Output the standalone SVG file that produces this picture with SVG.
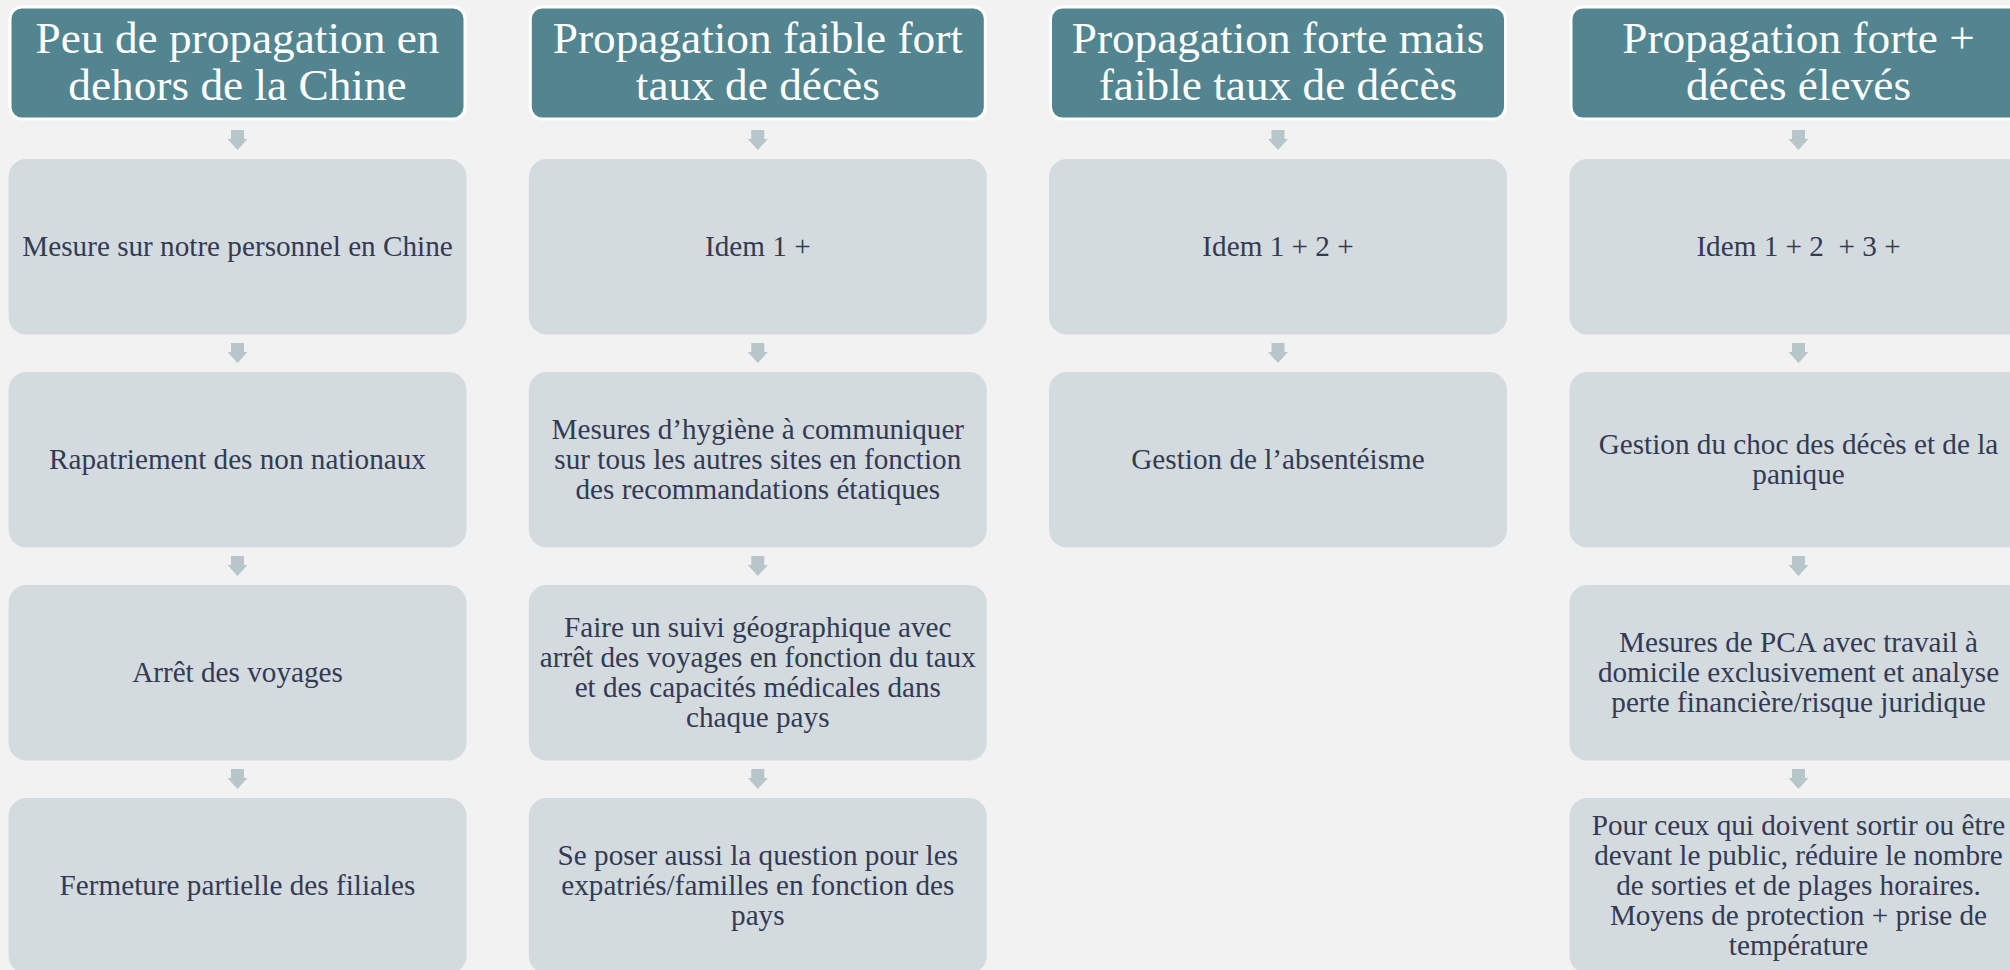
<svg xmlns="http://www.w3.org/2000/svg" width="2010" height="970" viewBox="0 0 2010 970">
<defs>
<style>
.bg{fill:#F2F2F2}
.hdr{fill:#52858F;stroke:#FFFFFF;stroke-width:3}
.box{fill:#D3DBDF}
.arr{fill:#B7C6CB}
.ht{font-family:"Liberation Serif","Times New Roman",serif;font-size:45.3px;fill:#FFFFFF;text-anchor:middle}
.bt{font-family:"Liberation Serif","Times New Roman",serif;font-size:29.2px;fill:#343A54;text-anchor:middle}
</style>
<path id="ar" d="M-6.5,0 H6.5 V9 H10 L0,20 L-10,9 H-6.5 Z"/>
</defs>
<rect class="bg" x="0" y="0" width="2010" height="970"/>

<g id="connectors">
<use href="#ar" class="arr" x="237.5" y="130"/>
<use href="#ar" class="arr" x="237.5" y="343"/>
<use href="#ar" class="arr" x="237.5" y="556"/>
<use href="#ar" class="arr" x="237.5" y="769"/>
<use href="#ar" class="arr" x="757.8" y="130"/>
<use href="#ar" class="arr" x="757.8" y="343"/>
<use href="#ar" class="arr" x="757.8" y="556"/>
<use href="#ar" class="arr" x="757.8" y="769"/>
<use href="#ar" class="arr" x="1278" y="130"/>
<use href="#ar" class="arr" x="1278" y="343"/>
<use href="#ar" class="arr" x="1798.5" y="130"/>
<use href="#ar" class="arr" x="1798.5" y="343"/>
<use href="#ar" class="arr" x="1798.5" y="556"/>
<use href="#ar" class="arr" x="1798.5" y="769"/>
</g>

<!-- Column 1 -->
<g id="h1">
<rect class="hdr" x="10" y="7" width="455" height="112" rx="12"/>
<text class="ht" x="237.5" y="53">Peu de propagation en</text>
<text class="ht" x="237.5" y="100">dehors de la Chine</text>
</g>
<g id="c1r1"><rect class="box" x="8.5" y="159" width="458" height="175.5" rx="18"/>
<text class="bt" x="237.5" y="256">Mesure sur notre personnel en Chine</text></g>
<g id="c1r2"><rect class="box" x="8.5" y="372" width="458" height="175.5" rx="18"/>
<text class="bt" x="237.5" y="469">Rapatriement des non nationaux</text></g>
<g id="c1r3"><rect class="box" x="8.5" y="585" width="458" height="175.5" rx="18"/>
<text class="bt" x="237.5" y="682">Arrêt des voyages</text></g>
<g id="c1r4"><rect class="box" x="8.5" y="798" width="458" height="175.5" rx="18"/>
<text class="bt" x="237.5" y="895">Fermeture partielle des filiales</text></g>

<!-- Column 2 -->
<g id="h2">
<rect class="hdr" x="530.3" y="7" width="455" height="112" rx="12"/>
<text class="ht" x="757.8" y="53">Propagation faible fort</text>
<text class="ht" x="757.8" y="100">taux de décès</text>
</g>
<g id="c2r1"><rect class="box" x="528.8" y="159" width="458" height="175.5" rx="18"/>
<text class="bt" x="757.8" y="256">Idem 1 +</text></g>
<g id="c2r2"><rect class="box" x="528.8" y="372" width="458" height="175.5" rx="18"/>
<text class="bt" x="757.8" y="439">Mesures d’hygiène à communiquer</text>
<text class="bt" x="757.8" y="469">sur tous les autres sites en fonction</text>
<text class="bt" x="757.8" y="499">des recommandations étatiques</text></g>
<g id="c2r3"><rect class="box" x="528.8" y="585" width="458" height="175.5" rx="18"/>
<text class="bt" x="757.8" y="637">Faire un suivi géographique avec</text>
<text class="bt" x="757.8" y="667">arrêt des voyages en fonction du taux</text>
<text class="bt" x="757.8" y="697">et des capacités médicales dans</text>
<text class="bt" x="757.8" y="727">chaque pays</text></g>
<g id="c2r4"><rect class="box" x="528.8" y="798" width="458" height="175.5" rx="18"/>
<text class="bt" x="757.8" y="865">Se poser aussi la question pour les</text>
<text class="bt" x="757.8" y="895">expatriés/familles en fonction des</text>
<text class="bt" x="757.8" y="925">pays</text></g>

<!-- Column 3 -->
<g id="h3">
<rect class="hdr" x="1050.5" y="7" width="455" height="112" rx="12"/>
<text class="ht" x="1278" y="53">Propagation forte mais</text>
<text class="ht" x="1278" y="100">faible taux de décès</text>
</g>
<g id="c3r1"><rect class="box" x="1049" y="159" width="458" height="175.5" rx="18"/>
<text class="bt" x="1278" y="256">Idem 1 + 2 +</text></g>
<g id="c3r2"><rect class="box" x="1049" y="372" width="458" height="175.5" rx="18"/>
<text class="bt" x="1278" y="469">Gestion de l’absentéisme</text></g>

<!-- Column 4 -->
<g id="h4">
<rect class="hdr" x="1571" y="7" width="455" height="112" rx="12"/>
<text class="ht" x="1798.5" y="53">Propagation forte +</text>
<text class="ht" x="1798.5" y="100">décès élevés</text>
</g>
<g id="c4r1"><rect class="box" x="1569.5" y="159" width="458" height="175.5" rx="18"/>
<text class="bt" x="1798.5" y="256" xml:space="preserve">Idem 1 + 2  + 3 +</text></g>
<g id="c4r2"><rect class="box" x="1569.5" y="372" width="458" height="175.5" rx="18"/>
<text class="bt" x="1798.5" y="454">Gestion du choc des décès et de la</text>
<text class="bt" x="1798.5" y="484">panique</text></g>
<g id="c4r3"><rect class="box" x="1569.5" y="585" width="458" height="175.5" rx="18"/>
<text class="bt" x="1798.5" y="652">Mesures de PCA avec travail à</text>
<text class="bt" x="1798.5" y="682">domicile exclusivement et analyse</text>
<text class="bt" x="1798.5" y="712">perte financière/risque juridique</text></g>
<g id="c4r4"><rect class="box" x="1569.5" y="798" width="458" height="175.5" rx="18"/>
<text class="bt" x="1798.5" y="835">Pour ceux qui doivent sortir ou être</text>
<text class="bt" x="1798.5" y="865">devant le public, réduire le nombre</text>
<text class="bt" x="1798.5" y="895">de sorties et de plages horaires.</text>
<text class="bt" x="1798.5" y="925">Moyens de protection + prise de</text>
<text class="bt" x="1798.5" y="955">température</text></g>
</svg>
